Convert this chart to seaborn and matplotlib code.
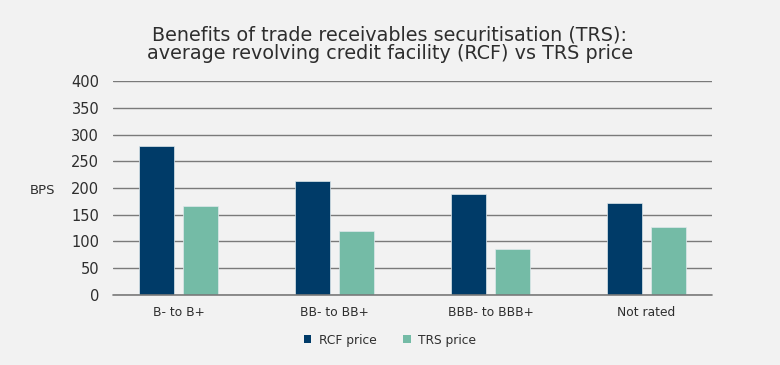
import matplotlib
matplotlib.use("Agg")
import matplotlib.pyplot as plt
import seaborn as sns
import pandas as pd
from matplotlib.patches import Patch

categories = ["B- to B+", "BB- to BB+", "BBB- to BBB+", "Not rated"]
rcf_price = [279, 213, 188, 172]
trs_price = [167, 120, 86, 127]
series = ["RCF price", "TRS price"]
yticks = [0, 50, 100, 150, 200, 250, 300, 350, 400]

df = pd.DataFrame({
    "category": categories * 2,
    "series": [series[0]] * 4 + [series[1]] * 4,
    "value": rcf_price + trs_price,
})

sns.set_theme(style="white")
plt.rcParams["font.family"] = ["DejaVu Sans"]
bg = "#f2f2f2"
txt = "#2e2e2e"
grid_c = "#7a7a7a"
colors = {"RCF price": "#003b68", "TRS price": "#74bba6"}

fig = plt.figure(figsize=(7.8, 3.65), dpi=100, facecolor=bg)
ax = fig.add_axes([0.145, 0.192, 0.768, 0.586])
ax.set_facecolor(bg)

sns.barplot(data=df, x="category", y="value", hue="series", order=categories,
            hue_order=series, palette=colors, width=0.564, gap=0.22,
            saturation=1, ax=ax, legend=False, zorder=3,
            edgecolor="#dfe8ec", linewidth=0.5)

ax.set_ylim(0, 400)
ax.set_xlim(-0.42, 3.42)
ax.set_yticks(yticks)
ax.yaxis.grid(True, color=grid_c, linewidth=1.0, zorder=0)
ax.set_axisbelow(True)
ax.axhline(0, color=grid_c, linewidth=1.2, zorder=4, clip_on=False)
for s in ax.spines.values():
    s.set_visible(False)
ax.tick_params(axis="y", length=0, pad=10, labelsize=10.5, labelcolor=txt)
ax.tick_params(axis="x", length=0, pad=8, labelsize=8.8, labelcolor=txt)
ax.set_xlabel("")
ax.set_ylabel("")

fig.text(0.038, 0.478, "BPS", fontsize=9.5, color=txt, ha="left", va="center")
fig.text(0.5, 0.878, "Benefits of trade receivables securitisation (TRS):\naverage revolving credit facility (RCF) vs TRS price",
         ha="center", va="center", fontsize=13.8, color=txt, linespacing=0.95)

handles = [Patch(facecolor=colors[s], edgecolor="none") for s in series]
fig.legend(handles, series, loc="center", bbox_to_anchor=(0.5, 0.068), ncol=2,
           frameon=False, fontsize=8.8, handlelength=0.6, handleheight=0.6,
           handletextpad=0.6, columnspacing=2.2, labelcolor=txt)

fig.savefig("out.png", dpi=100, facecolor=bg)
